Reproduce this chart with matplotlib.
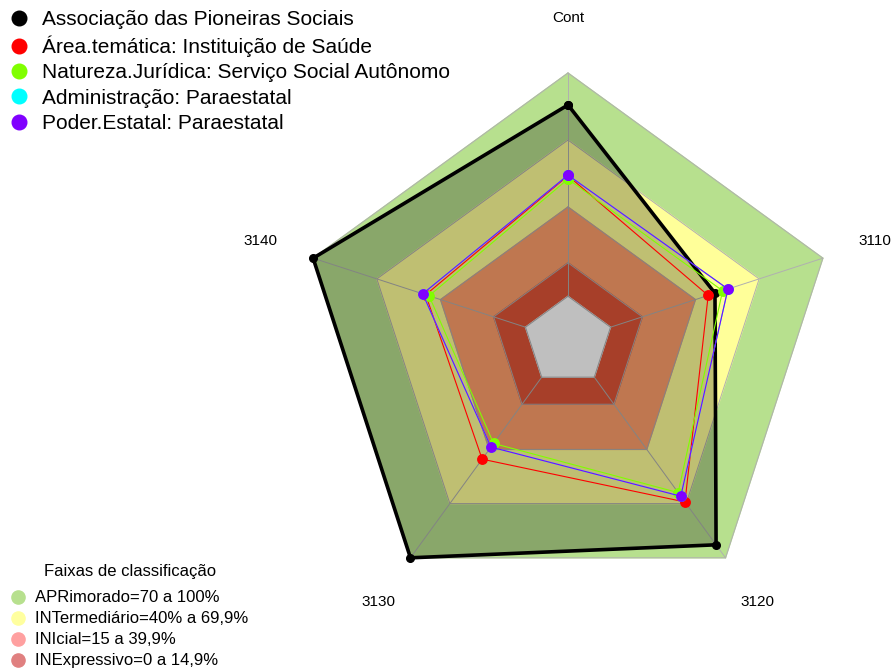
import numpy as np
import matplotlib.pyplot as plt
from matplotlib.lines import Line2D

plt.rcParams["font.family"] = ["Liberation Sans", "DejaVu Sans"]

# ── Data ────────────────────────────────────────────────────────────────────
axes_labels = ["Cont", "3110", "3120", "3130", "3140"]

assoc    = [85.7, 49.2, 92.8, 100.0, 100.0]   # Associação das Pioneiras Sociais
area     = [54.0, 46.0, 69.1, 45.4, 47.0]     # Área.temática
natureza = [52.5, 52.8, 63.9, 36.7, 45.4]     # Natureza.Jurídica
admin    = [54.3, 55.3, 65.9, 38.7, 48.4]     # Administração
poder    = [54.3, 55.3, 65.9, 38.7, 48.4]     # Poder.Estatal

series_names = ["Associação das Pioneiras Sociais",
                "Área.temática: Instituição de Saúde",
                "Natureza.Jurídica: Serviço Social Autônomo",
                "Administração: Paraestatal",
                "Poder.Estatal: Paraestatal"]
series_vals = [assoc, area, natureza, admin, poder]
series_cols = ["#000000", "#ff0000", "#80ff00", "#00ffff", "#8000ff"]

band_levels = [100, 70, 40, 15, 0]
band_fill   = ["#b7e08e", "#ffff99", "#ffa06b", "#df5538", "#ffffff"]
band_names  = ["APRimorado=70 a 100%", "INTermediário=40% a 69,9%",
               "INIcial=15 a 39,9%", "INExpressivo=0 a 14,9%"]
band_legend_cols = ["#b7e08e", "#ffff9f", "#ffa0a0", "#e08080"]

# ── Geometry (fmsb-like: centre gap of 1/6) ────────────────────────────────
GAP = 1 / 6
theta = np.deg2rad(90 - 72 * np.arange(len(axes_labels)))


def radius(v):
    return GAP + (1 - GAP) * np.asarray(v, dtype=float) / 100.0


def poly(vals):
    r = radius(vals)
    x = r * np.cos(theta)
    y = r * np.sin(theta)
    return np.append(x, x[0]), np.append(y, y[0])


W, H = 896, 670
CX, CY, R = 568, 341, 268

fig = plt.figure(figsize=(W / 100, H / 100), dpi=100)
ax = fig.add_axes([0, 0, 1, 1])
ax.set_xlim(-CX / R, (W - CX) / R)
ax.set_ylim(-(H - CY) / R, CY / R)
ax.set_aspect("equal")
ax.axis("off")

# bands
for lev, col in zip(band_levels, band_fill):
    x, y = poly([lev] * 5)
    ax.fill(x, y, color=col, zorder=1)
    ax.plot(x, y, color="#b0b0b0", lw=0.7, zorder=2)

# spokes
for t in theta:
    r0, r1 = radius(0), radius(100)
    ax.plot([r0 * np.cos(t), r1 * np.cos(t)], [r0 * np.sin(t), r1 * np.sin(t)],
            color="#b0b0b0", lw=0.7, zorder=2)

# axis labels
for lab, t in zip(axes_labels, theta):
    ax.text(1.205 * np.cos(t), 1.205 * np.sin(t), lab, ha="center", va="center",
            fontsize=11, zorder=5)

# series
x, y = poly(assoc)
ax.fill(x, y, color="black", alpha=0.25, lw=0, zorder=3)
ax.plot(x, y, color="black", lw=2.6, marker="o", ms=5.5, zorder=4)
for vals, col in zip(series_vals[1:], series_cols[1:]):
    x, y = poly(vals)
    ax.plot(x, y, color=col, lw=0.8, marker="o", ms=6.8, zorder=4)

# legends
h1 = [Line2D([], [], ls="none", marker="o", ms=10.5, color=c) for c in series_cols]
leg1 = ax.legend(h1, series_names, loc="upper left",
                 bbox_to_anchor=(2 / W, 1 - 2 / H),
                 frameon=False, fontsize=15, handlelength=0.8,
                 handletextpad=0.7, labelspacing=0.3, borderpad=0.2,
                 borderaxespad=0.2)
ax.add_artist(leg1)

h2 = [Line2D([], [], ls="none", marker="o", ms=9.5, color=c) for c in band_legend_cols]
leg2 = ax.legend(h2, band_names, loc="lower left", bbox_to_anchor=(10 / W, 0.0),
                 frameon=False, fontsize=12, title="Faixas de classificação",
                 title_fontsize=12, handlelength=0.8, handletextpad=0.6,
                 labelspacing=0.36, borderpad=0.1, borderaxespad=0.0)
leg2._legend_box.sep = 8  # a bit more room under the title

fig.savefig("out.png", dpi=100)
